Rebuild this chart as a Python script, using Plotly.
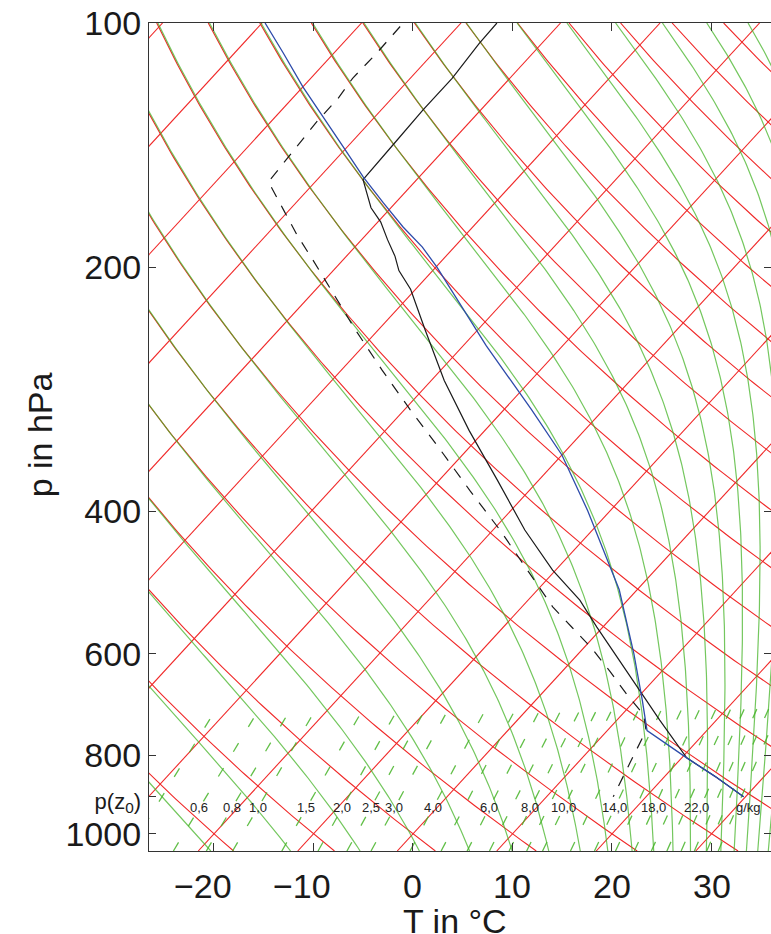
import numpy as np
import plotly.graph_objects as go

# ---------------- diagram constants ----------------
SKEW = 32.5          # degC of skew per ln-unit of pressure
P_TOP, P_BOT = 100.0, 1050.0
P_REF = 1000.0
P_SFC = 900.0        # p(z0)
P_LABEL = 929.0      # level of mixing-ratio labels
P_MIX_TOP = 700.0
X_RANGE = [-26.53, 35.98]

# ---------------- background isopleth values ----------------
isotherms_C = list(range(-100, 41, 10))
dry_adiabats_C = list(range(-20, 181, 10))      # potential temperature, degC
moist_adiabats_C = list(range(-30, 181, 10))    # equivalent potential temperature, degC
mixing_ratio_lines = [0.4, 0.6, 0.8, 1.0, 1.5, 2.0, 2.5, 3.0, 4.0, 5.0, 6.0, 7.0, 8.0,
                      9.0, 10.0, 12.0, 14.0, 16.0, 18.0, 20.0, 22.0, 24.0, 26.0, 28.0, 30.0]
mixing_ratio_labels = [0.6, 0.8, 1.0, 1.5, 2.0, 2.5, 3.0, 4.0, 6.0, 8.0, 10.0, 14.0, 18.0, 22.0]

x_ticks = [-20, -10, 0, 10, 20, 30]
x_tick_text = ["\u221220", "\u221210", "0", "10", "20", "30"]
p_ticks = [100, 200, 400, 600, 800, 900, 1000]
p_tick_text = ["100", "200", "400", "600", "800",
               "<span style='font-size:22px'>p(z<sub>0</sub>)</span>", "1000"]

# ---------------- sounding data ----------------
env_p = [100, 106, 117, 128, 141, 156, 162, 169, 176, 185, 194, 202, 213, 239, 276,
         318, 366, 422, 473, 515, 556, 605, 665, 724, 806, 850, 900]
env_T = [-66.4, -66.3, -65.8, -65.8, -65.6, -65.4, -63.8, -62.0, -59.7, -57.4, -55.1,
         -53.4, -50.5, -45.3, -38.7, -31.6, -24.2, -16.8, -10.3, -4.8, -0.6, 4.2, 9.5,
         14.3, 20.5, 25.1, 29.8]

dew_p = [101, 109, 117, 124, 132, 141, 150, 157, 170, 183, 195, 213, 239, 268, 300,
         336, 377, 422, 473, 525, 557, 590, 631, 674, 713, 746, 820, 900]
dew_T = [-75.8, -75.7, -75.8, -75.4, -75.4, -75.1, -74.9, -74.7, -70.6, -66.8, -63.3,
         -58.5, -52.3, -45.9, -39.4, -32.7, -26.0, -19.3, -12.8, -6.9, -3.0, 0.8, 4.85,
         8.7, 12.2, 13.9, 15.3, 16.7]

parcel_p = [900, 850, 806, 746, 684, 600, 500, 400, 341, 300, 250, 200, 189, 178.5,
            166.7, 154.9, 142.2, 130.6, 119.9, 108.9, 100]
parcel_T = [29.8, 25.1, 20.5, 14.0, 10.7, 5.6, -1.8, -12.2, -20.0, -27.2, -37.7, -49.9,
            -53.2, -57.0, -61.2, -65.6, -70.4, -75.2, -80.0, -85.1, -89.7]


# ---------------- helpers ----------------
def skew_x(T, p):
    return np.asarray(T, float) + SKEW * np.log(P_REF / np.asarray(p, float))


def sat_vp(Tc):
    return 6.112 * np.exp(17.67 * Tc / (Tc + 243.5))


def dewpoint_from_w(w, p):
    e = (w / 1000.0) * p / (0.622 + w / 1000.0)
    a = np.log(e / 6.112)
    return 243.5 * a / (17.67 - a)


def theta_e(TK, p):
    Tc = TK - 273.15
    e = np.minimum(sat_vp(Tc), 0.2 * p)
    r = 622.0 * e / (p - e)
    th = TK * (1000.0 / p) ** (0.2854 * (1 - 0.00028 * r))
    return th * np.exp((3.376 / TK - 0.00254) * r * (1 + 0.00081 * r))


def moist_T(thetae_K, p):
    lo = np.full_like(p, 120.0)
    hi = np.full_like(p, 345.0)
    for _ in range(60):
        mid = 0.5 * (lo + hi)
        f = theta_e(mid, p) - thetae_K
        lo = np.where(f < 0, mid, lo)
        hi = np.where(f < 0, hi, mid)
    return 0.5 * (lo + hi) - 273.15


def joined(pairs):
    xs, ys = [], []
    for x, y in pairs:
        xs += list(x) + [None]
        ys += list(y) + [None]
    return xs, ys


p_line = np.geomspace(P_TOP, P_BOT, 240)
p_mix = np.geomspace(P_MIX_TOP, P_BOT, 40)[::-1]

RED = "rgb(240,40,40)"
GREEN = "rgba(70,180,40,0.75)"
GREEN_DASH = "rgba(70,180,40,0.85)"

fig = go.Figure()

# isotherms
iso_x, iso_y = joined([(skew_x([t, t], [P_BOT, P_TOP]), [P_BOT, P_TOP]) for t in isotherms_C])
fig.add_trace(go.Scatter(x=iso_x, y=iso_y, mode="lines", line=dict(color=RED, width=1.1),
                         hoverinfo="skip"))

# dry adiabats
dry_x, dry_y = joined([
    (skew_x((th + 273.15) * (p_line / 1000.0) ** 0.2857 - 273.15, p_line), p_line)
    for th in dry_adiabats_C])
fig.add_trace(go.Scatter(x=dry_x, y=dry_y, mode="lines", line=dict(color=RED, width=1.1),
                         hoverinfo="skip"))

# moist adiabats
mst_x, mst_y = joined([(skew_x(moist_T(the + 273.15, p_line), p_line), p_line)
                       for the in moist_adiabats_C])
fig.add_trace(go.Scatter(x=mst_x, y=mst_y, mode="lines", line=dict(color=GREEN, width=1.2),
                         hoverinfo="skip"))

# mixing ratio lines
mix_x, mix_y = joined([(skew_x(dewpoint_from_w(w, p_mix), p_mix), p_mix)
                       for w in mixing_ratio_lines])
fig.add_trace(go.Scatter(x=mix_x, y=mix_y, mode="lines",
                         line=dict(color=GREEN_DASH, width=1.3, dash="10px,19px"),
                         hoverinfo="skip"))

# sounding
fig.add_trace(go.Scatter(x=skew_x(dew_T, dew_p), y=dew_p, mode="lines",
                         line=dict(color="#1a1a1a", width=1.2, dash="11px,10px")))
fig.add_trace(go.Scatter(x=skew_x(env_T, env_p), y=env_p, mode="lines",
                         line=dict(color="#1a1a1a", width=1.2)))
fig.add_trace(go.Scatter(x=skew_x(parcel_T, parcel_p), y=parcel_p, mode="lines",
                         line=dict(color="rgb(45,75,170)", width=1.3)))

# reference level lines
fig.add_shape(type="line", xref="paper", x0=0, x1=1, yref="y",
              y0=np.log10(P_REF), y1=np.log10(P_REF), line=dict(color="#333", width=1.3))
fig.add_shape(type="line", xref="paper", x0=0, x1=1, yref="y",
              y0=np.log10(P_SFC), y1=np.log10(P_SFC),
              line=dict(color="#777", width=1.5, dash="1.5px,6.5px"))

annotations = []
# mixing ratio labels
label_shift = {22.0: 11}
for w in mixing_ratio_labels:
    xl = float(skew_x(dewpoint_from_w(w, P_LABEL), P_LABEL))
    annotations.append(dict(x=xl, y=np.log10(P_LABEL), xref="x", yref="y",
                            text=f"{w:.1f}".replace(".", ","), showarrow=False,
                            font=dict(size=13, color="#222"), xanchor="center",
                            yanchor="middle", xshift=label_shift.get(w, 0)))
annotations.append(dict(x=33.7, y=np.log10(P_LABEL), xref="x", yref="y", text="g/kg",
                        showarrow=False, font=dict(size=13, color="#222"),
                        xanchor="center", yanchor="middle"))
# x tick labels
for v, t in zip(x_ticks, x_tick_text):
    annotations.append(dict(x=v, y=-0.0425, xref="x", yref="paper", text=t,
                            showarrow=False, font=dict(size=34, color="#1a1a1a"),
                            xanchor="center", yanchor="middle", borderpad=0,
                            xshift=-11 if v < 0 else 0))
# axis titles
annotations.append(dict(x=0.492, y=-0.0845, xref="paper", yref="paper", text="T in \u00b0C",
                        showarrow=False, font=dict(size=34, color="#1a1a1a"),
                        xanchor="center", yanchor="middle", borderpad=0))
annotations.append(dict(x=-0.1752, y=0.502, xref="paper", yref="paper", text="p in hPa",
                        showarrow=False, textangle=-90, font=dict(size=34, color="#1a1a1a"),
                        xanchor="center", yanchor="middle"))

fig.update_layout(
    width=771, height=934,
    margin=dict(l=149, r=0, t=23, b=83),
    plot_bgcolor="white", paper_bgcolor="white",
    showlegend=False,
    font=dict(family="Liberation Sans, Arial, sans-serif", size=34, color="#1a1a1a"),
    annotations=annotations,
    xaxis=dict(range=X_RANGE, showgrid=False, zeroline=False, tickvals=x_ticks,
               showticklabels=False, ticks="inside", ticklen=8, tickcolor="#333",
               showline=True, linecolor="#333", linewidth=1.3, mirror="ticks"),
    yaxis=dict(type="log", range=[np.log10(P_BOT), np.log10(P_TOP)], showgrid=False,
               zeroline=False, tickvals=p_ticks, ticktext=p_tick_text, ticks="inside",
               ticklen=7, tickcolor="#333", showline=True, linecolor="#333",
               linewidth=1.3, mirror="ticks", tickfont=dict(size=34)),
)

fig.write_html("out.html")
